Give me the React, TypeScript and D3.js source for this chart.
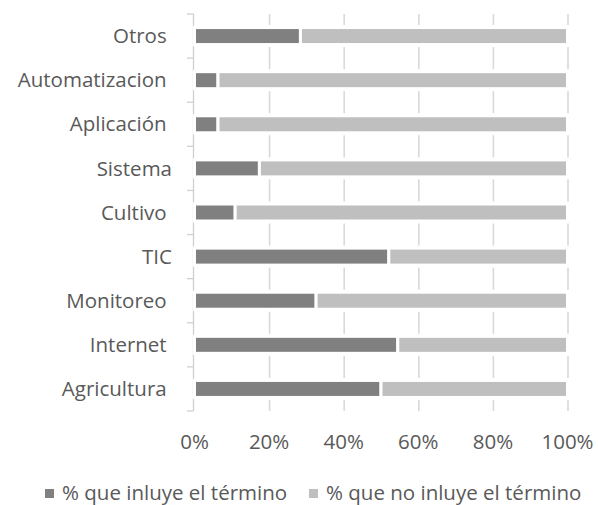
import React from "react";
import * as d3 from "d3";

const categories = ["Otros ", "Automatizacion ", "Aplicación ", "Sistema", "Cultivo ", "TIC", "Monitoreo ", "Internet ", "Agricultura "];
const incluye = [0.284, 0.063, 0.063, 0.174, 0.109, 0.521, 0.326, 0.545, 0.50];
const xTicks = [0, 0.2, 0.4, 0.6, 0.8, 1.0];
const seriesNames = ["% que inluye el término", "% que no inluye el término"];
const colors = ["#808080", "#bfbfbf"];

const W = 598;
const H = 505;
const FONT = "'Open Sans', sans-serif";
const FS = 20.5;

export default function App() {
  const x = d3.scaleLinear().domain([0, 1]).range([194.5, 567.5]);
  const y = d3.scaleBand<string>().domain(categories).range([14, 411]).paddingInner(0.5).paddingOuter(0.25);
  const step = y.step();
  const boundaries = d3.range(categories.length + 1).map((i) => 14 + i * step);
  const data = categories.map((c, i) => ({ c, a: incluye[i], b: 1 - incluye[i] }));
  const legendX = [45, 309];

  return (
    <svg width={W} height={H} style={{ position: "absolute", left: 0, top: 0, background: "#fff" }} fontFamily={FONT}>
      {xTicks.slice(1).map((t) => (
        <line key={t} x1={x(t) + 0.5} x2={x(t) + 0.5} y1={14} y2={411} stroke="#d9d9d9" strokeWidth={1.6} />
      ))}
      <line x1={193.5} x2={193.5} y1={14} y2={411} stroke="#d0d0d0" strokeWidth={1.3} />
      {boundaries.map((b, i) => (
        <line key={i} x1={187} x2={193.5} y1={b} y2={b} stroke="#d0d0d0" strokeWidth={1.3} />
      ))}
      {data.map((d) => {
        const yc = (y(d.c) as number) + y.bandwidth() / 2;
        return (
          <g key={d.c}>
            <rect x={x(0)} y={y(d.c) as number} width={x(1) - x(0) + 2} height={y.bandwidth()} fill="#fff" />
            <rect x={x(0)} y={yc - 8.5} width={x(d.a) - x(0)} height={17} fill={colors[0]} stroke="#fff" strokeWidth={3} />
            <rect x={x(d.a)} y={yc - 8.5} width={x(1) - x(d.a)} height={17} fill={colors[1]} stroke="#fff" strokeWidth={3} />
            <text x={172} y={yc} dy="0.35em" textAnchor="end" fontSize={FS} fill="#595959" style={{ whiteSpace: "pre" }}>
              {d.c}
            </text>
          </g>
        );
      })}
      {xTicks.map((t) => (
        <text key={t} x={x(t)} y={442} dy="0.35em" textAnchor="middle" fontSize={FS} fill="#595959">
          {d3.format(".0%")(t)}
        </text>
      ))}
      {seriesNames.map((s, i) => (
        <g key={s}>
          <rect x={legendX[i]} y={489} width={9} height={9} fill={colors[i]} />
          <text x={legendX[i] + 17} y={493} dy="0.35em" fontSize={FS} fill="#595959">{s}</text>
        </g>
      ))}
    </svg>
  );
}
